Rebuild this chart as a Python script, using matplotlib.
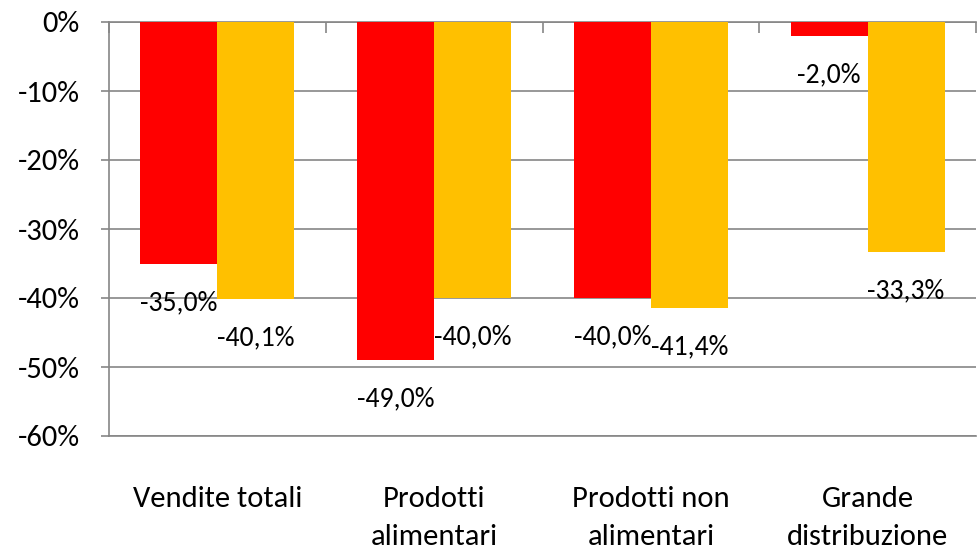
import matplotlib
matplotlib.use('Agg')
import matplotlib.pyplot as plt
import numpy as np

categorie = ["Vendite totali", "Prodotti\nalimentari", "Prodotti non\nalimentari", "Grande\ndistribuzione"]
serie_rossa = [-35.0, -49.0, -40.0, -2.0]
serie_gialla = [-40.1, -40.0, -41.4, -33.3]
tick_y = [0, -10, -20, -30, -40, -50, -60]

plt.rcParams['font.family'] = ['Carlito', 'DejaVu Sans']

fig = plt.figure(figsize=(9.79, 5.53), dpi=100)
ax = fig.add_axes([109/979, 1 - 436/553, (976 - 109)/979, (436 - 22)/553])

x = np.arange(len(categorie))
w = 0.355
grigio = '#868686'

b1 = ax.bar(x - w/2, serie_rossa, w, color='#FF0000', zorder=3)
b2 = ax.bar(x + w/2, serie_gialla, w, color='#FFC000', zorder=3)

# etichette dei valori sotto la fine di ogni barra
for barre, valori in ((b1, serie_rossa), (b2, serie_gialla)):
    for b, v in zip(barre, valori):
        ax.annotate("{:.1f}%".format(v).replace('.', ','),
                    (b.get_x() + b.get_width()/2, v),
                    xytext=(0, -28), textcoords='offset points',
                    ha='center', va='center', fontsize=20, zorder=4)

ax.set_xlim(-0.5, 3.5)
ax.set_ylim(-60, 0)
ax.set_yticks(tick_y)
ax.set_yticklabels(["{}%".format(t) for t in tick_y], fontsize=22)
ax.yaxis.grid(True, color=grigio, linewidth=1.2, zorder=0)
ax.set_axisbelow(True)

ax.set_xticks(x)
ax.set_xticklabels(categorie, fontsize=22, linespacing=1.55)
ax.set_xticks(np.arange(-0.5, 4, 1), minor=True)
ax.tick_params(axis='x', which='major', length=0, pad=36)
ax.tick_params(axis='x', which='minor', bottom=False, top=True, direction='in',
               length=8, width=1.2, color=grigio)
ax.tick_params(axis='y', length=6, width=1.2, color=grigio, pad=15)

for lato in ('top', 'left', 'bottom'):
    ax.spines[lato].set_color(grigio)
    ax.spines[lato].set_linewidth(1.2)
ax.spines['right'].set_visible(False)

plt.savefig('out.png', dpi=100)
plt.close()
